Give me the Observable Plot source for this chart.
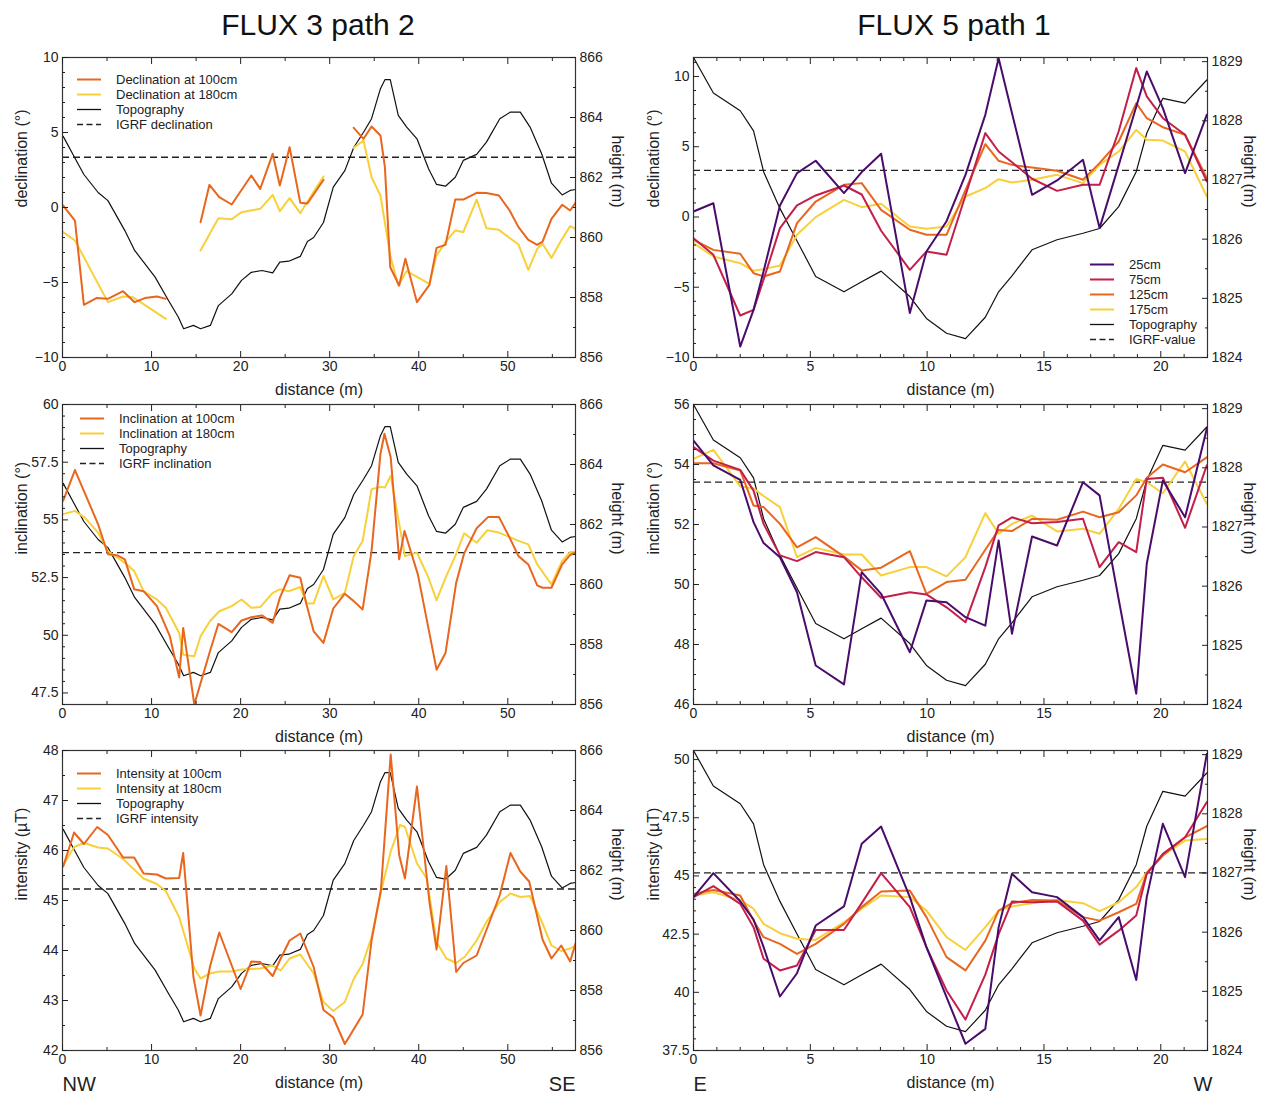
<!DOCTYPE html>
<html><head><meta charset="utf-8">
<script src="https://cdn.jsdelivr.net/npm/d3@7"></script>
<script src="https://cdn.jsdelivr.net/npm/@observablehq/plot@0.6"></script>
<style>
body{margin:0;background:#fff;font-family:"Liberation Sans",Arial,sans-serif;}
#root{position:relative;width:1263px;height:1098px;overflow:hidden;background:#fff;}
.panel{position:absolute;}
.title{position:absolute;top:10px;font-size:30px;line-height:30px;color:#111;transform:translateX(-50%);white-space:nowrap;}
.legend{position:absolute;font-size:13px;color:#222;z-index:5;}
.legend .row{display:flex;align-items:center;height:15px;}
.legend svg{display:block;}
</style></head><body><div id="root"></div><script>
// ================= FLUX 3 path 2 (left column) : [distance m, value] =================
const topoL = [[0.08,863.37],[1.3,862.7],[2.4,862.1],[4.0,861.5],[5.1,861.23],[7.0,860.23],[8.1,859.57],[10.4,858.68],[11.9,857.9],[13.0,857.35],[13.6,856.96],[14.7,857.07],[15.5,856.96],[16.6,857.07],[17.5,857.73],[19.0,858.12],[20.1,858.57],[21.2,858.84],[22.4,858.9],[23.6,858.82],[24.4,859.18],[25.4,859.21],[26.7,859.37],[27.5,859.87],[28.2,860.0],[29.3,860.5],[30.4,861.68],[31.7,862.23],[32.7,863.0],[33.8,863.51],[34.7,863.96],[35.7,864.96],[36.2,865.26],[36.8,865.26],[37.7,864.07],[38.65,863.68],[39.8,863.29],[41.1,862.29],[42.0,861.77],[43.0,861.71],[44.1,862.01],[45.0,862.57],[46.5,862.77],[47.6,863.18],[49.1,863.96],[50.3,864.18],[51.4,864.18],[52.5,863.68],[53.8,862.79],[54.9,861.81],[56.1,861.42],[57.0,861.57],[57.6,861.6]];
const dec100 = [[0.08,0.13],[1.4,-0.87],[2.4,-6.49],[3.8,-6.04],[5.1,-6.09],[6.8,-5.58],[8.1,-6.31],[9.25,-6.04],[10.6,-5.93],[11.6,-6.09],[13.5,null],[15.5,-0.98],[16.5,1.51],[17.6,0.69],[19.0,0.2],[21.2,2.13],[22.2,1.24],[23.6,3.58],[24.4,1.47],[25.5,4.02],[26.7,0.31],[27.5,0.27],[29.3,1.84],[31.0,null],[32.7,5.31],[33.8,4.58],[34.7,5.4],[35.7,4.8],[36.2,2.69],[36.8,-3.98],[37.8,-5.2],[38.5,-3.42],[39.8,-6.31],[41.2,-5.16],[42.0,-2.69],[43.0,-2.49],[44.1,0.53],[45.0,0.53],[46.5,0.98],[47.6,0.96],[49.0,0.8],[50.2,-0.2],[51.2,-1.31],[52.3,-2.16],[53.3,-2.49],[53.9,-2.27],[54.9,-0.76],[56.1,0.18],[57.0,-0.2],[57.6,0.31]];
const dec180 = [[0.08,-1.64],[1.4,-2.2],[5.1,-6.31],[6.8,-5.93],[7.9,-5.98],[11.6,-7.42],[13.5,null],[15.5,-2.87],[17.5,-0.71],[19.0,-0.78],[20.1,-0.31],[22.2,-0.09],[23.6,0.84],[24.4,-0.24],[25.5,0.62],[26.7,-0.38],[27.5,0.4],[29.3,2.07],[31.0,null],[32.7,3.98],[33.8,4.47],[34.7,2.02],[35.7,0.8],[36.8,-3.2],[37.7,-5.2],[38.65,-4.24],[41.2,-5.09],[42.0,-3.2],[43.0,-2.31],[44.1,-1.53],[45.0,-1.64],[46.5,0.53],[47.6,-1.38],[49.0,-1.49],[51.2,-2.47],[52.3,-4.16],[53.3,-2.76],[53.9,-2.42],[54.9,-3.36],[56.1,-2.09],[57.0,-1.24],[57.6,-1.42]];
const inc100 = [[0.08,55.83],[1.4,57.16],[4.0,54.81],[5.1,53.51],[6.1,53.47],[7.0,53.29],[8.05,51.99],[9.1,51.91],[10.6,51.26],[12.05,49.96],[13.1,48.17],[13.55,50.32],[14.8,47.0],[16.55,49.3],[17.5,50.49],[19.0,50.14],[20.1,50.64],[21.2,50.78],[22.4,50.86],[23.6,50.54],[24.4,51.62],[25.5,52.6],[26.7,52.49],[27.4,51.33],[28.2,50.17],[29.3,49.67],[30.4,51.16],[31.7,51.8],[32.7,51.48],[33.7,51.12],[34.7,53.65],[35.7,57.86],[36.15,58.73],[36.85,57.71],[37.8,53.29],[38.4,54.52],[39.9,52.64],[42.0,48.51],[43.0,49.23],[44.2,52.27],[45.1,53.55],[46.5,54.64],[47.8,55.13],[49.0,55.13],[50.2,54.23],[51.2,53.43],[52.3,53.07],[53.3,52.16],[53.9,52.06],[54.9,52.06],[56.1,53.07],[57.0,53.48],[57.6,53.58]];
const inc180 = [[0.08,55.25],[1.4,55.39],[2.5,55.1],[4.0,54.45],[5.1,53.65],[7.0,53.14],[8.05,52.78],[9.1,51.91],[10.6,51.55],[11.6,51.19],[13.1,50.1],[13.55,49.16],[14.8,49.09],[15.5,49.96],[16.55,50.61],[17.6,51.04],[19.0,51.26],[20.1,51.55],[21.2,51.19],[22.2,51.22],[23.6,51.84],[24.4,51.99],[25.4,51.91],[26.7,52.09],[27.4,51.38],[28.2,51.38],[29.3,52.57],[30.4,51.55],[31.7,51.84],[32.7,53.43],[33.7,54.09],[34.7,56.33],[35.7,56.43],[36.2,56.4],[36.85,56.91],[38.45,53.43],[39.8,53.58],[41.1,52.49],[42.0,51.51],[43.0,52.49],[44.1,53.43],[45.1,54.42],[46.5,54.01],[47.7,54.55],[49.0,54.45],[51.2,54.09],[52.3,53.94],[53.3,53.07],[54.9,52.2],[56.1,53.22],[57.0,53.61],[57.6,53.62]];
const int100 = [[0.08,45.68],[1.3,46.36],[2.4,46.13],[3.9,46.47],[5.1,46.31],[6.8,45.86],[8.05,45.86],[9.1,45.54],[10.6,45.52],[11.6,45.44],[13.1,45.45],[13.55,45.95],[14.7,43.47],[15.5,42.7],[16.55,43.67],[17.6,44.36],[20.0,43.23],[21.2,43.78],[22.2,43.77],[23.6,43.49],[24.5,43.84],[25.5,44.2],[26.7,44.34],[28.2,43.67],[29.3,42.81],[30.4,42.66],[31.7,42.13],[33.7,42.72],[34.7,44.2],[35.75,45.21],[36.85,47.92],[37.8,45.91],[38.45,45.44],[39.8,47.28],[41.2,44.97],[42.0,44.02],[43.1,45.69],[44.2,43.57],[45.0,43.75],[46.5,43.9],[47.6,44.41],[49.1,45.11],[50.3,45.95],[51.4,45.58],[52.4,45.38],[53.9,44.22],[54.9,43.84],[56.0,44.1],[57.0,43.78],[57.6,44.14]];
const int180 = [[0.08,45.7],[1.3,46.07],[2.4,46.15],[4.0,46.06],[5.1,46.04],[6.8,45.83],[9.1,45.44],[10.6,45.33],[11.6,45.19],[13.1,44.67],[14.8,43.64],[15.5,43.44],[16.55,43.54],[17.6,43.58],[19.0,43.58],[20.1,43.62],[22.2,43.64],[23.6,43.7],[24.5,43.6],[25.5,43.84],[26.7,43.92],[28.2,43.54],[29.3,42.97],[30.4,42.79],[31.7,42.97],[32.7,43.43],[33.7,43.73],[34.7,44.27],[35.75,45.17],[36.85,45.98],[37.9,46.51],[38.45,46.47],[39.8,45.74],[40.9,45.44],[42.0,44.17],[43.1,43.84],[44.2,43.75],[45.2,43.88],[46.5,44.2],[47.6,44.57],[49.1,44.97],[50.3,45.14],[51.4,45.07],[52.5,45.09],[53.9,44.54],[54.9,44.1],[56.0,43.99],[57.0,44.04],[57.6,44.1]];
const igrfDecL = 3.35, igrfIncL = 53.58, igrfIntL = 45.23;

// ================= FLUX 5 path 1 (right column) =================
const xR = [0,0.85,2.0,2.57,3.0,3.7,4.43,5.23,6.44,7.2,8.03,9.26,9.97,10.83,11.64,12.49,13.06,13.63,14.49,15.56,16.67,17.38,18.2,18.95,19.4,20.09,21.04,21.97];
const topoR = [1829.07,1828.47,1828.17,1827.83,1827.14,1826.52,1825.97,1825.37,1825.11,1825.28,1825.46,1825.03,1824.66,1824.41,1824.32,1824.68,1825.11,1825.38,1825.82,1825.99,1826.1,1826.18,1826.55,1827.14,1827.79,1828.38,1828.3,1828.69];
const dec25  = [0.39,0.98,-9.22,-6.61,-3.86,0.82,3.12,4.0,1.7,3.2,4.5,-6.84,-2.46,-0.3,3.0,7.27,11.3,7.4,1.58,2.6,4.07,-0.79,3.69,7.84,10.36,7.75,3.12,7.27];
const dec75  = [-1.51,-2.69,-7.01,-6.61,-4.45,-0.79,0.82,1.53,2.24,1.6,-0.98,-3.76,-2.46,-2.69,1.53,5.97,4.66,3.9,2.72,1.86,2.29,2.29,6.1,10.6,8.58,7.03,5.85,2.53];
const dec125 = [-1.63,-2.34,-2.62,-4.0,-4.23,-3.88,-0.44,1.1,2.29,2.41,0.51,-0.91,-1.27,-1.27,1.91,5.18,4.0,3.71,3.52,3.29,2.65,3.83,5.37,8.1,7.03,6.39,5.85,2.76];
const dec175 = [-1.86,-2.81,-3.29,-3.83,-3.71,-3.45,-1.27,-0.01,1.22,0.7,0.94,-0.68,-0.84,-0.68,1.46,2.05,2.69,2.45,2.65,3.0,2.41,3.71,4.66,6.2,5.49,5.44,4.66,1.46];
const inc25  = [54.8,53.97,53.49,52.08,51.38,50.91,49.74,47.3,46.67,50.41,49.69,47.74,49.47,49.41,48.91,48.63,51.47,48.36,51.6,51.3,53.41,52.97,49.5,46.36,50.69,53.47,52.24,55.19];
const inc75  = [54.58,54.13,53.82,53.13,52.02,50.97,50.78,51.08,50.91,50.24,49.56,49.74,49.67,49.24,48.74,50.58,51.97,52.24,52.04,52.08,52.19,50.58,51.41,51.08,53.52,53.56,51.89,53.97];
const inc125 = [54.04,54.04,53.8,52.63,52.58,52.02,51.24,51.58,50.93,50.47,50.56,51.11,49.69,50.08,50.16,51.16,51.82,51.78,52.19,52.16,52.43,52.24,52.41,52.97,53.56,54.0,53.74,54.24];
const inc175 = [54.19,54.49,53.27,53.2,52.95,52.58,50.91,51.22,51.0,51.0,50.3,50.58,50.58,50.27,50.91,52.38,51.69,52.02,52.3,51.77,51.86,51.69,52.52,53.52,53.41,53.04,54.1,52.69];
const int25  = [44.09,45.12,43.91,43.13,41.94,39.82,40.82,42.87,43.69,46.38,47.12,44.09,41.94,39.79,37.79,38.43,42.8,45.09,44.3,44.09,43.23,42.23,43.23,40.53,44.09,47.24,44.95,50.24];
const int75  = [44.09,44.56,43.8,42.8,41.44,40.94,41.15,42.68,42.68,43.83,45.12,43.66,41.94,40.08,38.83,40.76,42.5,43.9,43.87,43.9,43.08,42.05,42.65,43.3,45.09,45.95,46.66,48.17];
const int125 = [44.23,44.4,44.16,43.08,42.37,42.08,41.65,42.08,42.94,43.66,44.33,44.37,43.23,41.51,40.94,42.22,43.51,43.83,43.97,43.94,43.23,43.08,43.44,43.8,45.12,45.88,46.66,47.14];
const int175 = [44.16,44.3,43.97,43.59,42.94,42.54,42.3,42.25,43.01,43.59,44.16,44.09,43.51,42.37,41.82,42.8,43.51,43.69,43.83,43.97,43.83,43.49,43.87,44.52,45.16,45.88,46.52,46.59];
const igrfDecR = 3.31, igrfIncR = 53.41, igrfIntR = 45.13;

// colours
const cOrange = "#E8661E", cYellow = "#F7D03A", cPurple = "#4A0C6B", cCrimson = "#C41E4A";

const pairs = a => a.map(([x, y]) => ({x, y}));
const zipR = v => xR.map((x, i) => ({x, y: v[i]}));
const minors = (a, b, s, majors) => d3.range(a, b + s / 2, s).map(v => +v.toFixed(4)).filter(v => !majors.some(m => Math.abs(m - v) < 1e-6));
const fmt = v => (v < 0 ? "\u2212" : "") + String(Math.abs(+v.toFixed(4)));

const root = document.getElementById("root");

function panel(o) {
  const mt = 12, mb = 50, H = 300;
  const [y0, y1] = o.yDomain, [h0, h1] = o.hDomain;
  const k = (y1 - y0) / (h1 - h0);
  const toY = h => y0 + (h - h0) * k;
  const fromY = y => h0 + (y - y0) / k;
  const empty = () => "";
  const marks = [
    Plot.ruleY([o.igrf], {stroke: "#222", strokeWidth: 1.3, strokeDasharray: "7,4"}),
    Plot.line(o.topo, {x: "x", y: d => toY(d.y), stroke: "#111", strokeWidth: 1.2}),
    ...o.series.map(s => Plot.line(s.data, {x: "x", y: "y", stroke: s.color, strokeWidth: 2, clip: true})),
    Plot.frame({stroke: "#333", strokeWidth: 1.2}),
    Plot.axisX(o.xTicks, {anchor: "bottom", tickSize: -6, tickPadding: 10, tickFormat: fmt, label: null}),
    Plot.axisX(o.xMinor, {anchor: "bottom", tickSize: -3, tickFormat: empty, label: null}),
    Plot.axisX(o.xTicks, {anchor: "top", tickSize: -6, tickFormat: empty, label: null}),
    Plot.axisX(o.xMinor, {anchor: "top", tickSize: -3, tickFormat: empty, label: null}),
    Plot.axisY(o.yTicks, {anchor: "left", tickSize: -6, tickPadding: 10, tickFormat: fmt, label: null}),
    Plot.axisY(o.yMinor, {anchor: "left", tickSize: -3, tickFormat: empty, label: null}),
    Plot.axisY(o.hTicks.map(toY), {anchor: "right", tickSize: -6, tickPadding: 10, tickFormat: y => String(Math.round(fromY(y))), label: null}),
    Plot.axisY(o.hMinor.map(toY), {anchor: "right", tickSize: -3, tickFormat: empty, label: null}),
    Plot.text([o.ylabel], {text: d => d, frameAnchor: "left", dx: o.ylabelDx, rotate: -90, fontSize: 16}),
    Plot.text(["height (m)"], {text: d => d, frameAnchor: "right", dx: o.hlabelDx, rotate: 90, fontSize: 16}),
    Plot.text(["distance (m)"], {text: d => d, frameAnchor: "bottom", dy: 37, fontSize: 16})
  ];
  if (o.ends) {
    marks.push(Plot.text([o.ends[0]], {text: d => d, frameAnchor: "bottom-left", dy: 40, dx: 0, textAnchor: "start", fontSize: 20}));
    marks.push(Plot.text([o.ends[1]], {text: d => d, frameAnchor: "bottom-right", dy: 40, dx: o.endDx, textAnchor: "end", fontSize: 20}));
  }
  const svg = Plot.plot({
    width: o.width, height: H + mt + mb,
    marginLeft: o.ml, marginRight: o.width - o.ml - o.frameW, marginTop: mt, marginBottom: mb,
    style: {background: "transparent", fontFamily: "'Liberation Sans', Arial, sans-serif", fontSize: "14px", color: "#222", overflow: "visible", maxWidth: "none"},
    x: {domain: o.xDomain},
    y: {domain: o.yDomain},
    marks
  });
  const div = document.createElement("div");
  div.className = "panel";
  div.style.left = o.left + "px";
  div.style.top = (o.frameTop - mt) + "px";
  div.appendChild(svg);
  root.appendChild(div);
}

function legend(items, left, top) {
  const d = document.createElement("div");
  d.className = "legend";
  d.style.left = left + "px";
  d.style.top = top + "px";
  for (const it of items) {
    const row = document.createElement("div");
    row.className = "row";
    row.innerHTML = `<svg width="24" height="15"><line x1="0" x2="24" y1="7.5" y2="7.5" stroke="${it.color}" stroke-width="${it.w}" ${it.dash ? 'stroke-dasharray="6,3.5"' : ""}/></svg><span style="margin-left:15px">${it.label}</span>`;
    d.appendChild(row);
  }
  root.appendChild(d);
}

function title(text, cx) {
  const t = document.createElement("div");
  t.className = "title";
  t.style.left = cx + "px";
  t.textContent = text;
  root.appendChild(t);
}

// ---------- shared axis settings ----------
const L = {left: 0, width: 640, ml: 62, frameW: 513, xDomain: [0, 57.6], xTicks: [0, 10, 20, 30, 40, 50], xMinor: [5, 15, 25, 35, 45, 55],
  hDomain: [856, 866], hTicks: [856, 858, 860, 862, 864, 866], hMinor: [857, 859, 861, 863, 865], ylabelDx: -41, hlabelDx: 42};
const R = {left: 640, width: 623, ml: 53, frameW: 514, xDomain: [0, 22], xTicks: [0, 5, 10, 15, 20], xMinor: minors(0, 22, 1, [0, 5, 10, 15, 20]),
  hDomain: [1824, 1829.07], hTicks: [1824, 1825, 1826, 1827, 1828, 1829], hMinor: [1824.5, 1825.5, 1826.5, 1827.5, 1828.5], ylabelDx: -40, hlabelDx: 42};

const topoLd = pairs(topoL), topoRd = zipR(topoR);

// ---------- left column ----------
panel({...L, frameTop: 57, yDomain: [-10, 10], yTicks: [-10, -5, 0, 5, 10], yMinor: minors(-10, 10, 1, [-10, -5, 0, 5, 10]),
  ylabel: "declination (°)", igrf: igrfDecL, topo: topoLd,
  series: [{data: pairs(dec180), color: cYellow}, {data: pairs(dec100), color: cOrange}]});
panel({...L, frameTop: 404, yDomain: [47, 60], yTicks: [47.5, 50, 52.5, 55, 57.5, 60], yMinor: minors(47, 60, 0.5, [47.5, 50, 52.5, 55, 57.5, 60]),
  ylabel: "inclination (°)", igrf: igrfIncL, topo: topoLd,
  series: [{data: pairs(inc180), color: cYellow}, {data: pairs(inc100), color: cOrange}]});
panel({...L, frameTop: 750, yDomain: [42, 48], yTicks: [42, 43, 44, 45, 46, 47, 48], yMinor: minors(42, 48, 0.5, [42, 43, 44, 45, 46, 47, 48]),
  ylabel: "intensity (µT)", igrf: igrfIntL, topo: topoLd, ends: ["NW", "SE"], endDx: 0,
  series: [{data: pairs(int180), color: cYellow}, {data: pairs(int100), color: cOrange}]});

// ---------- right column ----------
const rs = (a25, a75, a125, a175) => [
  {data: zipR(a175), color: cYellow}, {data: zipR(a125), color: cOrange},
  {data: zipR(a75), color: cCrimson}, {data: zipR(a25), color: cPurple}];
panel({...R, frameTop: 57, yDomain: [-10, 11.35], yTicks: [-10, -5, 0, 5, 10], yMinor: minors(-10, 11, 1, [-10, -5, 0, 5, 10]),
  ylabel: "declination (°)", igrf: igrfDecR, topo: topoRd, series: rs(dec25, dec75, dec125, dec175)});
panel({...R, frameTop: 404, yDomain: [46, 56], yTicks: [46, 48, 50, 52, 54, 56], yMinor: minors(46, 56, 0.5, [46, 48, 50, 52, 54, 56]),
  ylabel: "inclination (°)", igrf: igrfIncR, topo: topoRd, series: rs(inc25, inc75, inc125, inc175)});
panel({...R, frameTop: 750, yDomain: [37.5, 50.39], yTicks: [37.5, 40, 42.5, 45, 47.5, 50], yMinor: minors(37.5, 50, 0.5, [37.5, 40, 42.5, 45, 47.5, 50]),
  ylabel: "intensity (µT)", igrf: igrfIntR, topo: topoRd, ends: ["E", "W"], endDx: 5, series: rs(int25, int75, int125, int175)});

// ---------- titles & legends ----------
title("FLUX 3 path 2", 318);
title("FLUX 5 path 1", 954);

const topoItem = {label: "Topography", color: "#111", w: 1.3};
legend([{label: "Declination at 100cm", color: cOrange, w: 2}, {label: "Declination at 180cm", color: cYellow, w: 2}, topoItem, {label: "IGRF declination", color: "#222", w: 1.4, dash: true}], 77, 72);
legend([{label: "Inclination at 100cm", color: cOrange, w: 2}, {label: "Inclination at 180cm", color: cYellow, w: 2}, topoItem, {label: "IGRF inclination", color: "#222", w: 1.4, dash: true}], 80, 411);
legend([{label: "Intensity at 100cm", color: cOrange, w: 2}, {label: "Intensity at 180cm", color: cYellow, w: 2}, topoItem, {label: "IGRF intensity", color: "#222", w: 1.4, dash: true}], 77, 766);
legend([{label: "25cm", color: cPurple, w: 2}, {label: "75cm", color: cCrimson, w: 2}, {label: "125cm", color: cOrange, w: 2}, {label: "175cm", color: cYellow, w: 2}, topoItem, {label: "IGRF-value", color: "#222", w: 1.4, dash: true}], 1090, 257);
</script></body></html>
